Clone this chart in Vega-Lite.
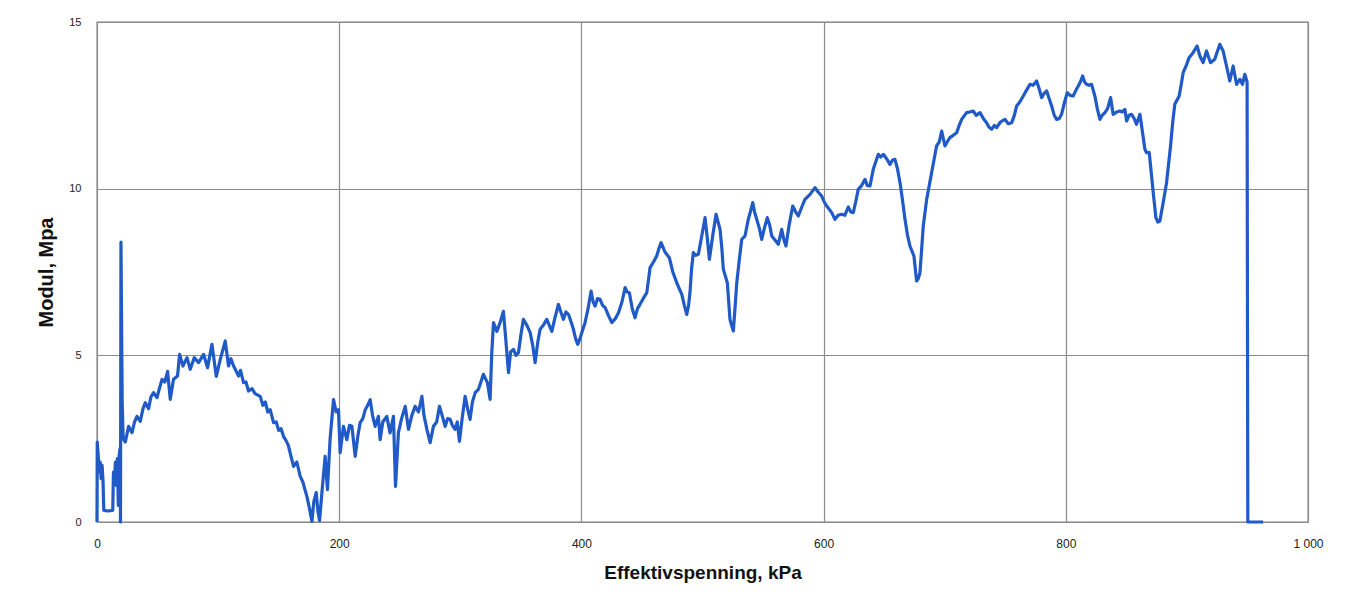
{
  "$schema": "https://vega.github.io/schema/vega-lite/v6.json",
  "width": 1211,
  "height": 500,
  "autosize": {"type": "none"},
  "padding": {"left": 97, "top": 22, "right": 51, "bottom": 72},
  "background": "white",
  "config": {
    "font": "Liberation Sans",
    "view": {"stroke": "#a6a6a6", "strokeWidth": 1.5}
  },
  "data": {
    "values": [
      {"kPa":0,"MPa":0},{"kPa":0.2,"MPa":2.4},{"kPa":1,"MPa":2.0},{"kPa":1.8,"MPa":1.5},{"kPa":2.6,"MPa":1.8},{"kPa":3.4,"MPa":1.3},{"kPa":4.2,"MPa":1.7},{"kPa":5,"MPa":1.2},{"kPa":5.6,"MPa":0.35},{"kPa":9,"MPa":0.33},{"kPa":13,"MPa":0.35},{"kPa":13.6,"MPa":1.5},{"kPa":14.4,"MPa":1.2},{"kPa":15.2,"MPa":1.8},{"kPa":16,"MPa":1.1},{"kPa":16.8,"MPa":1.9},{"kPa":17.6,"MPa":0.5},{"kPa":18.3,"MPa":2.0},{"kPa":19,"MPa":2.2},{"kPa":19.4,"MPa":0},{"kPa":19.8,"MPa":8.4},{"kPa":20.2,"MPa":6.4},{"kPa":20.8,"MPa":3.6},{"kPa":21.6,"MPa":2.5},
      {"kPa":23.4,"MPa":2.4},{"kPa":26.1,"MPa":2.87},{"kPa":28.9,"MPa":2.68},{"kPa":31,"MPa":3.0},{"kPa":33,"MPa":3.17},{"kPa":35.7,"MPa":3.02},{"kPa":38,"MPa":3.4},{"kPa":39.9,"MPa":3.58},{"kPa":42.6,"MPa":3.4},{"kPa":44.5,"MPa":3.75},{"kPa":46.7,"MPa":3.88},{"kPa":49.5,"MPa":3.73},{"kPa":51.5,"MPa":4.0},{"kPa":53.7,"MPa":4.28},{"kPa":56,"MPa":4.2},{"kPa":58.3,"MPa":4.52},{"kPa":60.5,"MPa":3.68},{"kPa":63.2,"MPa":4.28},{"kPa":66.5,"MPa":4.38},{"kPa":68.2,"MPa":5.03},{"kPa":71,"MPa":4.68},{"kPa":74.3,"MPa":4.93},{"kPa":77,"MPa":4.58},{"kPa":80.3,"MPa":4.93},{"kPa":83.9,"MPa":4.78},{"kPa":88,"MPa":5.03},{"kPa":91.3,"MPa":4.63},{"kPa":94.9,"MPa":5.33},{"kPa":98.5,"MPa":4.37},{"kPa":101.8,"MPa":4.88},{"kPa":105.9,"MPa":5.43},{"kPa":108.6,"MPa":4.68},{"kPa":110.5,"MPa":4.9},{"kPa":112.8,"MPa":4.68},{"kPa":116.9,"MPa":4.38},{"kPa":118.5,"MPa":4.55},{"kPa":121,"MPa":4.18},{"kPa":123,"MPa":4.2},{"kPa":125.1,"MPa":3.93},
      {"kPa":128,"MPa":4.0},{"kPa":130.5,"MPa":3.85},{"kPa":134.8,"MPa":3.77},{"kPa":137,"MPa":3.5},{"kPa":139,"MPa":3.6},{"kPa":141,"MPa":3.3},{"kPa":143,"MPa":3.37},{"kPa":145.8,"MPa":2.98},{"kPa":148,"MPa":3.0},{"kPa":150,"MPa":2.75},{"kPa":152,"MPa":2.8},{"kPa":154,"MPa":2.57},{"kPa":156,"MPa":2.45},{"kPa":158,"MPa":2.3},{"kPa":160,"MPa":2.0},{"kPa":162.3,"MPa":1.67},{"kPa":165,"MPa":1.8},{"kPa":167.8,"MPa":1.37},{"kPa":170,"MPa":1.2},{"kPa":171.5,"MPa":1.0},{"kPa":173.3,"MPa":0.77},{"kPa":175.5,"MPa":0.4},{"kPa":177.5,"MPa":0.02},{"kPa":179,"MPa":0.6},{"kPa":181,"MPa":0.88},{"kPa":182.5,"MPa":0.3},{"kPa":183.8,"MPa":0.05},{"kPa":186,"MPa":1.0},{"kPa":188.4,"MPa":1.97},{"kPa":190.3,"MPa":0.97},{"kPa":192.5,"MPa":2.5},{"kPa":195.3,"MPa":3.67},{"kPa":197.5,"MPa":3.3},{"kPa":199.4,"MPa":3.37},{"kPa":200.8,"MPa":2.08},
      {"kPa":203.5,"MPa":2.87},{"kPa":206.3,"MPa":2.47},{"kPa":208.5,"MPa":2.9},{"kPa":210.5,"MPa":2.87},{"kPa":213.2,"MPa":1.97},{"kPa":215.5,"MPa":2.6},{"kPa":217.3,"MPa":2.98},{"kPa":219.5,"MPa":3.1},{"kPa":221.5,"MPa":3.37},{"kPa":223.5,"MPa":3.5},{"kPa":225.6,"MPa":3.67},{"kPa":227.5,"MPa":3.2},{"kPa":229.7,"MPa":2.87},{"kPa":232.4,"MPa":3.17},{"kPa":233.8,"MPa":2.47},{"kPa":236,"MPa":3.0},{"kPa":239.3,"MPa":3.17},{"kPa":242,"MPa":2.67},{"kPa":244.8,"MPa":3.17},{"kPa":246.5,"MPa":1.07},{"kPa":248.9,"MPa":2.68},{"kPa":251.5,"MPa":3.1},{"kPa":254.5,"MPa":3.47},{"kPa":257.2,"MPa":2.78},{"kPa":260,"MPa":3.2},{"kPa":262.7,"MPa":3.47},{"kPa":265.5,"MPa":3.3},{"kPa":268.3,"MPa":3.77},{"kPa":270,"MPa":3.2},{"kPa":272.4,"MPa":2.78},{"kPa":275.1,"MPa":2.38},{"kPa":277.8,"MPa":2.87},{"kPa":280.5,"MPa":3.0},{"kPa":282.8,"MPa":3.47},{"kPa":285,"MPa":3.2},{"kPa":287.5,"MPa":2.87},{"kPa":289.5,"MPa":3.1},{"kPa":291.6,"MPa":3.08},{"kPa":293.5,"MPa":2.9},{"kPa":295.7,"MPa":2.78},{"kPa":297.5,"MPa":3.0},{"kPa":299.3,"MPa":2.42},{"kPa":301.5,"MPa":3.1},{"kPa":304,"MPa":3.77},{"kPa":306,"MPa":3.4},{"kPa":308.1,"MPa":3.08},{"kPa":310,"MPa":3.6},{"kPa":312.3,"MPa":3.88},{"kPa":315,"MPa":3.98},{"kPa":317,"MPa":4.2},{"kPa":319.1,"MPa":4.43},{"kPa":322.4,"MPa":4.18},{"kPa":324.6,"MPa":3.68},{"kPa":326,"MPa":5.08},{"kPa":327.4,"MPa":5.98},{"kPa":330.2,"MPa":5.72},{"kPa":333,"MPa":6.0},{"kPa":335.6,"MPa":6.32},{"kPa":337.5,"MPa":5.5},{"kPa":339.8,"MPa":4.48},{"kPa":341.5,"MPa":5.1},{"kPa":343.9,"MPa":5.18},{"kPa":346,"MPa":5.0},{"kPa":348,"MPa":5.08},{"kPa":350,"MPa":5.6},{"kPa":352.1,"MPa":6.08},{"kPa":355,"MPa":5.9},{"kPa":357.7,"MPa":5.68},{"kPa":359.8,"MPa":5.3},{"kPa":361.8,"MPa":4.78},{"kPa":364,"MPa":5.4},{"kPa":365.9,"MPa":5.78},{"kPa":368.5,"MPa":5.9},{"kPa":371.4,"MPa":6.08},{"kPa":373.5,"MPa":5.9},{"kPa":375.6,"MPa":5.72},{"kPa":378,"MPa":6.1},{"kPa":381,"MPa":6.53},{"kPa":383,"MPa":6.3},{"kPa":385.2,"MPa":6.08},{"kPa":387.2,"MPa":6.3},{"kPa":389.3,"MPa":6.23},{"kPa":391.5,"MPa":6.0},{"kPa":393.4,"MPa":5.78},{"kPa":395.2,"MPa":5.5},{"kPa":397,"MPa":5.33},{"kPa":398.8,"MPa":5.5},{"kPa":400.3,"MPa":5.68},
      {"kPa":403,"MPa":5.98},{"kPa":405.5,"MPa":6.4},{"kPa":408,"MPa":6.93},{"kPa":409.7,"MPa":6.6},{"kPa":411.3,"MPa":6.48},{"kPa":413.3,"MPa":6.7},{"kPa":415.4,"MPa":6.68},{"kPa":417.5,"MPa":6.5},{"kPa":419.6,"MPa":6.43},{"kPa":422.3,"MPa":6.2},{"kPa":425.1,"MPa":5.98},{"kPa":428,"MPa":6.1},{"kPa":430.6,"MPa":6.28},{"kPa":433.5,"MPa":6.6},{"kPa":436.1,"MPa":7.03},{"kPa":437.8,"MPa":6.9},{"kPa":439.6,"MPa":6.88},{"kPa":442,"MPa":6.4},{"kPa":444.3,"MPa":6.13},{"kPa":446.3,"MPa":6.4},{"kPa":448.4,"MPa":6.53},{"kPa":451,"MPa":6.7},{"kPa":454,"MPa":6.88},{"kPa":456.7,"MPa":7.63},{"kPa":459.5,"MPa":7.8},{"kPa":462.2,"MPa":7.98},{"kPa":464,"MPa":8.2},{"kPa":465.8,"MPa":8.38},{"kPa":469,"MPa":8.1},{"kPa":472.6,"MPa":7.93},{"kPa":475.5,"MPa":7.5},{"kPa":478.7,"MPa":7.18},{"kPa":480.8,"MPa":7.0},{"kPa":482.9,"MPa":6.83},{"kPa":485,"MPa":6.5},{"kPa":487,"MPa":6.23},{"kPa":488.5,"MPa":6.5},{"kPa":489.7,"MPa":6.9},{"kPa":491,"MPa":7.6},{"kPa":492.4,"MPa":8.08},{"kPa":494.5,"MPa":8.0},{"kPa":496.6,"MPa":8.03},{"kPa":499.5,"MPa":8.6},{"kPa":502.1,"MPa":9.13},{"kPa":504,"MPa":8.5},{"kPa":505.7,"MPa":7.88},{"kPa":508.5,"MPa":8.6},{"kPa":511.2,"MPa":9.23},{"kPa":514.5,"MPa":8.78},{"kPa":516,"MPa":8.2},{"kPa":517.2,"MPa":7.58},{"kPa":520.5,"MPa":7.18},{"kPa":522.7,"MPa":6.08},{"kPa":524,"MPa":5.9},{"kPa":525.5,"MPa":5.73},{"kPa":527,"MPa":6.5},{"kPa":528.3,"MPa":7.18},{"kPa":530.5,"MPa":7.9},{"kPa":532.4,"MPa":8.48},{"kPa":535.1,"MPa":8.58},{"kPa":537.8,"MPa":9.08},{"kPa":539.5,"MPa":9.3},{"kPa":541.5,"MPa":9.58},{"kPa":543,"MPa":9.3},{"kPa":544.8,"MPa":9.08},{"kPa":547,"MPa":8.8},{"kPa":548.9,"MPa":8.48},{"kPa":551,"MPa":8.8},{"kPa":553.5,"MPa":9.13},{"kPa":555.5,"MPa":8.9},{"kPa":557.2,"MPa":8.58},{"kPa":560,"MPa":8.45},{"kPa":562.6,"MPa":8.33},{"kPa":565.4,"MPa":8.78},{"kPa":567,"MPa":8.5},{"kPa":568.9,"MPa":8.28},{"kPa":571.5,"MPa":8.9},{"kPa":574.5,"MPa":9.48},{"kPa":577,"MPa":9.3},{"kPa":579.1,"MPa":9.18},{"kPa":582,"MPa":9.45},{"kPa":584.6,"MPa":9.68},{"kPa":588.8,"MPa":9.83},{"kPa":592.9,"MPa":10.03},{"kPa":595.5,"MPa":9.9},{"kPa":598.4,"MPa":9.78},{"kPa":600.5,"MPa":9.6},
      {"kPa":602.6,"MPa":9.48},{"kPa":606.7,"MPa":9.28},{"kPa":609.4,"MPa":9.08},{"kPa":612,"MPa":9.2},{"kPa":614.9,"MPa":9.23},{"kPa":617.5,"MPa":9.2},{"kPa":620.4,"MPa":9.45},{"kPa":622.5,"MPa":9.3},{"kPa":624.5,"MPa":9.28},{"kPa":626.5,"MPa":9.6},{"kPa":628.6,"MPa":9.98},{"kPa":631.5,"MPa":10.1},{"kPa":634.2,"MPa":10.28},{"kPa":636,"MPa":10.1},{"kPa":638.3,"MPa":10.08},{"kPa":641,"MPa":10.58},{"kPa":643,"MPa":10.8},{"kPa":645.2,"MPa":11.03},{"kPa":647.2,"MPa":10.95},{"kPa":649.3,"MPa":11.03},{"kPa":652,"MPa":10.9},{"kPa":654.8,"MPa":10.73},{"kPa":656.8,"MPa":10.85},{"kPa":658.9,"MPa":10.88},{"kPa":661,"MPa":10.6},{"kPa":663.1,"MPa":10.18},{"kPa":665,"MPa":9.7},{"kPa":667.2,"MPa":9.08},{"kPa":669.3,"MPa":8.6},{"kPa":671.3,"MPa":8.28},{"kPa":674.6,"MPa":7.98},{"kPa":676.8,"MPa":7.23},{"kPa":678.2,"MPa":7.3},{"kPa":679.6,"MPa":7.48},{"kPa":682.3,"MPa":8.88},{"kPa":685.1,"MPa":9.68},{"kPa":689.2,"MPa":10.48},{"kPa":693.3,"MPa":11.28},{"kPa":695.5,"MPa":11.4},{"kPa":697.5,"MPa":11.73},{"kPa":700.2,"MPa":11.28},{"kPa":702,"MPa":11.4},{"kPa":704.3,"MPa":11.53},{"kPa":707,"MPa":11.6},{"kPa":709.9,"MPa":11.68},{"kPa":712,"MPa":11.9},{"kPa":714,"MPa":12.08},{"kPa":718.1,"MPa":12.28},{"kPa":720.5,"MPa":12.3},{"kPa":723.6,"MPa":12.33},{"kPa":726,"MPa":12.2},{"kPa":729.1,"MPa":12.28},{"kPa":732,"MPa":12.1},{"kPa":734.6,"MPa":11.98},{"kPa":736.5,"MPa":11.85},{"kPa":738.8,"MPa":11.78},{"kPa":741,"MPa":11.9},{"kPa":742.9,"MPa":11.83},{"kPa":746,"MPa":12.0},{"kPa":749.7,"MPa":12.08},{"kPa":752.5,"MPa":11.95},{"kPa":755.3,"MPa":11.98},{"kPa":757.5,"MPa":12.2},{"kPa":759.4,"MPa":12.48},{"kPa":762,"MPa":12.6},{"kPa":764.9,"MPa":12.78},{"kPa":767.5,"MPa":12.95},{"kPa":770.4,"MPa":13.13},{"kPa":773,"MPa":13.1},{"kPa":775.9,"MPa":13.23},{"kPa":778,"MPa":13.0},{"kPa":780,"MPa":12.73},{"kPa":782,"MPa":12.85},{"kPa":784.2,"MPa":12.93},{"kPa":786.3,"MPa":12.7},{"kPa":788.3,"MPa":12.48},{"kPa":790.5,"MPa":12.2},{"kPa":792.4,"MPa":12.08},{"kPa":794.5,"MPa":12.1},{"kPa":796.5,"MPa":12.23},{"kPa":799,"MPa":12.6},
      {"kPa":801.2,"MPa":12.88},{"kPa":803.5,"MPa":12.8},{"kPa":806.1,"MPa":12.78},{"kPa":808.3,"MPa":12.95},{"kPa":810.3,"MPa":13.08},{"kPa":812,"MPa":13.2},{"kPa":813.9,"MPa":13.38},{"kPa":815.5,"MPa":13.2},{"kPa":817.2,"MPa":13.13},{"kPa":819.3,"MPa":13.1},{"kPa":821.3,"MPa":13.13},{"kPa":824,"MPa":12.78},{"kPa":826,"MPa":12.4},{"kPa":828.2,"MPa":12.08},{"kPa":830,"MPa":12.2},{"kPa":832.3,"MPa":12.28},{"kPa":834.5,"MPa":12.4},{"kPa":837,"MPa":12.73},{"kPa":839.1,"MPa":12.23},{"kPa":842,"MPa":12.3},{"kPa":844.6,"MPa":12.33},{"kPa":846.5,"MPa":12.3},{"kPa":848.8,"MPa":12.38},{"kPa":850.2,"MPa":12.03},{"kPa":852.2,"MPa":12.2},{"kPa":854.3,"MPa":12.23},{"kPa":856.5,"MPa":12.1},{"kPa":858.4,"MPa":11.93},{"kPa":861.2,"MPa":12.23},{"kPa":863.4,"MPa":11.68},{"kPa":865.3,"MPa":11.18},{"kPa":866.7,"MPa":11.08},{"kPa":868.9,"MPa":11.08},{"kPa":870.5,"MPa":10.5},{"kPa":872.2,"MPa":9.88},{"kPa":874.4,"MPa":9.13},{"kPa":876,"MPa":9.0},{"kPa":877.7,"MPa":9.03},{"kPa":879,"MPa":9.3},{"kPa":880.4,"MPa":9.58},{"kPa":883.2,"MPa":10.18},{"kPa":886.5,"MPa":11.28},{"kPa":888.3,"MPa":12.0},{"kPa":890,"MPa":12.53},{"kPa":893.6,"MPa":12.78},{"kPa":895.2,"MPa":13.1},{"kPa":896.9,"MPa":13.48},{"kPa":899.5,"MPa":13.7},{"kPa":901.8,"MPa":13.93},{"kPa":905.1,"MPa":14.08},{"kPa":908.4,"MPa":14.28},{"kPa":910.7,"MPa":13.98},{"kPa":913.4,"MPa":13.78},{"kPa":916.2,"MPa":14.13},{"kPa":919.5,"MPa":13.78},{"kPa":923,"MPa":13.88},{"kPa":925,"MPa":14.1},{"kPa":927.2,"MPa":14.33},{"kPa":929.9,"MPa":14.13},{"kPa":932.7,"MPa":13.68},{"kPa":935.4,"MPa":13.23},{"kPa":938.2,"MPa":13.68},{"kPa":941,"MPa":13.13},{"kPa":943.7,"MPa":13.28},{"kPa":945.9,"MPa":13.13},{"kPa":947.8,"MPa":13.43},{"kPa":949.7,"MPa":13.2},{"kPa":950.3,"MPa":0},{"kPa":955,"MPa":0},{"kPa":963,"MPa":0}
    ]
  },
  "mark": {"type": "line", "color": "#1f5ac6", "strokeWidth": 3.2, "strokeJoin": "round"},
  "encoding": {
    "x": {
      "field": "kPa",
      "type": "quantitative",
      "scale": {"domain": [0, 1000], "nice": false, "zero": true},
      "axis": {
        "title": "Effektivspenning, kPa",
        "values": [0, 200, 400, 600, 800, 1000],
        "labelExpr": "datum.value == 1000 ? '1 000' : datum.label",
        "labelFlush": false,
        "domain": false,
        "ticks": false,
        "grid": true,
        "gridColor": "#8c8c8c",
        "gridWidth": 1.2,
        "labelFont": "Liberation Sans",
        "labelFontSize": 12,
        "labelColor": "#222222",
        "labelPadding": 16,
        "titleFont": "Liberation Sans",
        "titleFontSize": 19,
        "titleFontWeight": "bold",
        "titleColor": "#111111",
        "titlePadding": 14
      }
    },
    "y": {
      "field": "MPa",
      "type": "quantitative",
      "scale": {"domain": [0, 15], "nice": false},
      "axis": {
        "title": "Modul, Mpa",
        "values": [0, 5, 10, 15],
        "labelFlush": false,
        "domain": false,
        "ticks": false,
        "grid": true,
        "gridColor": "#8c8c8c",
        "gridWidth": 1.2,
        "labelFont": "Liberation Sans",
        "labelFontSize": 11,
        "labelColor": "#222222",
        "labelPadding": 16,
        "titleFont": "Liberation Sans",
        "titleFontSize": 20,
        "titleFontWeight": "bold",
        "titleColor": "#111111",
        "titlePadding": 12
      }
    }
  }
}
